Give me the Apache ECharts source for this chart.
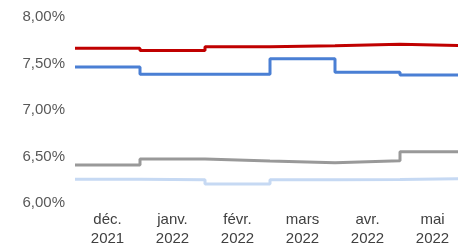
<!DOCTYPE html>
<html>
<head>
<meta charset="utf-8">
<title>Taux</title>
<script src="https://cdn.jsdelivr.net/npm/echarts@6/dist/echarts.min.js"></script>
<style>
  html, body { margin: 0; padding: 0; background: #fff; }
  #main { width: 458px; height: 244px; }
</style>
</head>
<body>
<div id="main"></div>
<script>
// données
var mois = ['déc.\n2021', 'janv.\n2022', 'févr.\n2022', 'mars\n2022', 'avr.\n2022', 'mai\n2022'];
var serieRouge = [7.663, 7.640, 7.680, 7.690, 7.706, 7.692];
var serieBleue = [7.462, 7.384, 7.384, 7.552, 7.405, 7.376];
var serieGrise = [6.409, 6.473, 6.452, 6.434, 6.455, 6.550];
var serieBleuClair = [6.255, 6.250, 6.204, 6.250, 6.252, 6.262];
var yTicks = [6, 6.5, 7, 7.5, 8];

// paliers : chaque mois occupe un intervalle [i, i+1]
function paliers(vals) {
  var pts = vals.map(function (v, i) { return [i, v]; });
  pts.push([vals.length, vals[vals.length - 1]]);
  return pts;
}

function ligne(nom, vals, couleur, epaisseur) {
  return {
    name: nom,
    type: 'line',
    xAxisIndex: 1,
    step: 'end',
    symbol: 'none',
    data: paliers(vals),
    lineStyle: { color: couleur, width: epaisseur },
    itemStyle: { color: couleur }
  };
}

var chart = echarts.init(document.getElementById('main'));
chart.setOption({
  animation: false,
  grid: { left: 75, top: 17, width: 390, height: 186, containLabel: false, outerBoundsMode: 'none' },
  xAxis: [{
    type: 'category',
    data: mois,
    boundaryGap: true,
    axisLine: { show: false },
    axisTick: { show: false },
    splitLine: { show: false },
    axisLabel: {
      interval: 0,
      margin: 7,
      color: '#404040',
      fontSize: 15,
      lineHeight: 19,
      fontFamily: 'Liberation Sans, Arial, sans-serif'
    }
  }, {
    type: 'value',
    min: 0,
    max: mois.length,
    show: false
  }],
  yAxis: {
    type: 'value',
    min: yTicks[0],
    max: yTicks[yTicks.length - 1],
    interval: 0.5,
    axisLine: { show: false },
    axisTick: { show: false },
    splitLine: { show: false },
    axisLabel: {
      margin: 10,
      color: '#595959',
      fontSize: 15,
      fontFamily: 'Liberation Sans, Arial, sans-serif',
      formatter: function (v) { return v.toFixed(2).replace('.', ',') + '%'; }
    }
  },
  series: [
    ligne('rouge', serieRouge, '#C00000', 3),
    ligne('bleu', serieBleue, '#4A7FD4', 3),
    ligne('gris', serieGrise, '#999999', 3),
    ligne('bleu clair', serieBleuClair, '#C6D9F3', 3)
  ]
});
</script>
</body>
</html>
